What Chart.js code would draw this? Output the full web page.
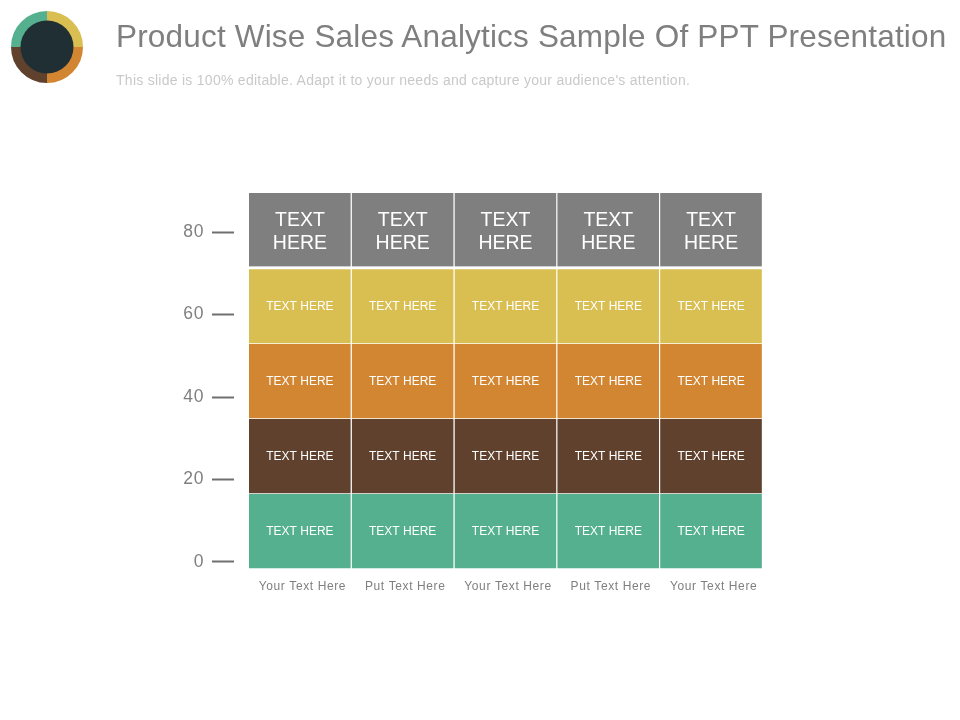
<!DOCTYPE html>
<html><head><meta charset="utf-8">
<script src="https://cdn.jsdelivr.net/npm/chart.js@4"></script>
<style>
html,body{margin:0;padding:0;background:#fff;width:960px;height:720px;overflow:hidden;font-family:"Liberation Sans",Arial,sans-serif}
#main{position:absolute;left:0;top:0}
#logo{position:absolute;left:11px;top:11px}
#title{position:absolute;left:116px;top:17px;font-size:31.5px;line-height:38px;color:#7f7f7f;white-space:nowrap;letter-spacing:.18px}
#sub{position:absolute;left:116px;top:72px;font-size:14px;line-height:16px;color:#c9c9c9;white-space:nowrap;letter-spacing:.27px}
</style></head><body>
<canvas id="main" width="960" height="720"></canvas>
<canvas id="logo" width="72" height="72"></canvas>
<div id="title">Product Wise Sales Analytics Sample Of PPT Presentation</div>
<div id="sub">This slide is 100% editable. Adapt it to your needs and capture your audience's attention.</div>
<script>
const categories=["Your Text Here","Put Text Here","Your Text Here","Put Text Here","Your Text Here"];
const yTicks=[0,20,40,60,80];
const tealBand=[-1.7,16.5];
const brownBand=[16.5,34.7];
const orangeBand=[34.7,52.9];
const yellowBand=[52.9,71];
const headerBand=[71.7,89.5];
const cellText="TEXT HERE";
const headerText=["TEXT","HERE"];
const logoValues=[25,25,25,25];
const logoColors=["#d9bf52","#d38632","#5f412e","#55b08f"];

const rows=[
 {label:"Teal",band:tealBand,color:"#55b08f"},
 {label:"Brown",band:brownBand,color:"#5f412e"},
 {label:"Orange",band:orangeBand,color:"#d38632"},
 {label:"Yellow",band:yellowBand,color:"#d9bf52"},
 {label:"Header",band:headerBand,color:"#7f7f7f",header:true}
];
const cellLabels={
 id:"cellLabels",
 beforeDraw(c){c.ctx.letterSpacing="0.6px";},
 beforeDatasetsDraw(c){c.ctx.letterSpacing="0px";},
 afterDatasetsDraw(c){
  const x=c.ctx;x.save();x.textAlign="center";x.textBaseline="middle";x.fillStyle="#fff";
  c.data.datasets.forEach((d,i)=>{
   c.getDatasetMeta(i).data.forEach(b=>{
    const m=b.getProps(["x","y","base"],true),cy=(m.y+m.base)/2;
    if(d.isHeader){
     x.font='19.5px "Liberation Sans"';
     headerText.forEach((t,k)=>x.fillText(t,m.x-.5,cy+2+(k-.5)*23));
    }else{
     x.font='12px "Liberation Sans"';
     x.fillText(cellText,m.x-.5,cy);
    }
   });
  });
  x.restore();
 }
};
new Chart(document.getElementById("main"),{
 type:"bar",
 plugins:[cellLabels],
 data:{labels:categories,datasets:rows.map(r=>({
   label:r.label,isHeader:!!r.header,
   data:categories.map(()=>r.band),
   backgroundColor:r.color,borderColor:"#ffffff",
   borderWidth:{left:0,top:0,right:1.5,bottom:r.header?0:1},borderSkipped:false,
   grouped:false,categoryPercentage:1,barPercentage:1
 }))},
 options:{
  responsive:false,animation:false,
  layout:{padding:{left:0,top:193,right:197,bottom:0}},
  plugins:{legend:{display:false},title:{display:false},tooltip:{enabled:false}},
  scales:{
   x:{grid:{display:false},border:{display:false},
      afterFit(s){s.height=151;},
      ticks:{color:"#7f7f7f",font:{size:12,family:"Liberation Sans"},padding:2,labelOffset:2,maxRotation:0,autoSkip:false}},
   y:{min:-1.7,max:89.5,
      afterFit(s){s.width=249;},
      afterBuildTicks(s){s.ticks=yTicks.map(v=>({value:v}));},
      border:{display:false},
      grid:{drawOnChartArea:false,drawTicks:true,tickLength:37,tickColor:"#6f6f6f",tickWidth:2,tickBorderDash:[22,100]},
      ticks:{color:"#7f7f7f",font:{size:17.5,family:"Liberation Sans"},padding:8}}
  }
 }
});
const logoCore={id:"logoCore",afterDraw(c){
 const x=c.ctx;x.save();x.fillStyle="#1f2f33";x.beginPath();x.arc(36,36,26.5,0,Math.PI*2);x.fill();x.restore();}};
new Chart(document.getElementById("logo"),{
 type:"doughnut",plugins:[logoCore],
 data:{labels:["A","B","C","D"],datasets:[{data:logoValues,backgroundColor:logoColors,borderWidth:0}]},
 options:{responsive:false,animation:false,cutout:"70%",plugins:{legend:{display:false},tooltip:{enabled:false}}}
});
</script></body></html>
